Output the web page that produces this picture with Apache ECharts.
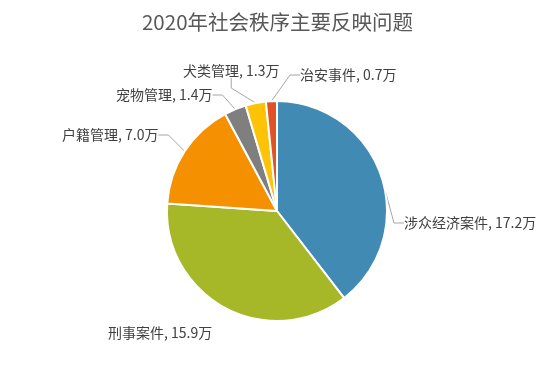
<!DOCTYPE html>
<html><head><meta charset="utf-8">
<script src="https://cdn.jsdelivr.net/npm/echarts@6/dist/echarts.min.js"></script>
<style>html,body{margin:0;padding:0;background:#fff}#c{width:555px;height:365px}</style>
</head><body><div id="c"></div>
<script>
var titleText = '2020年社会秩序主要反映问题';
var categories = ['涉众经济案件', '刑事案件', '户籍管理', '宠物管理', '犬类管理', '治安事件'];
var values = [17.2, 15.9, 7.0, 1.4, 1.3, 0.7];
var unit = '万';
var colors = ['#418ab3', '#a6b727', '#f59100', '#7f7f7f', '#fec306', '#df5327'];
var labelPos = [[404, 223], [108, 333], [62, 135], [116, 95], [183, 71], [300, 75]];

var chart = echarts.init(document.getElementById('c'));
var data = categories.map(function (n, i) {
  var d = { name: n, value: values[i], itemStyle: { color: colors[i] } };
  if (i === 1) d.labelLine = { show: false };
  return d;
});
chart.setOption({
  animation: false,
  title: {
    text: titleText, left: 'center', top: 7,
    textStyle: { fontFamily: 'Noto Sans CJK SC', fontSize: 20.5, fontWeight: 'normal', color: '#595959' }
  },
  series: [{
    type: 'pie',
    center: [277, 211],
    radius: [0, 110],
    startAngle: 90,
    clockwise: true,
    data: data,
    itemStyle: { borderColor: '#fff', borderWidth: 2 },
    label: {
      show: true,
      formatter: function (p) { return p.name + ', ' + p.value.toFixed(1) + unit; },
      fontFamily: 'Noto Sans CJK SC', fontSize: 14, color: '#404040'
    },
    labelLine: { show: true, lineStyle: { color: '#a6a6a6', width: 1 }, length: 10, length2: 10 },
    labelLayout: function (params) {
      var p = labelPos[params.dataIndex];
      return { x: p[0], y: p[1], align: 'left', verticalAlign: 'middle', hideOverlap: false };
    }
  }]
});
</script></body></html>
